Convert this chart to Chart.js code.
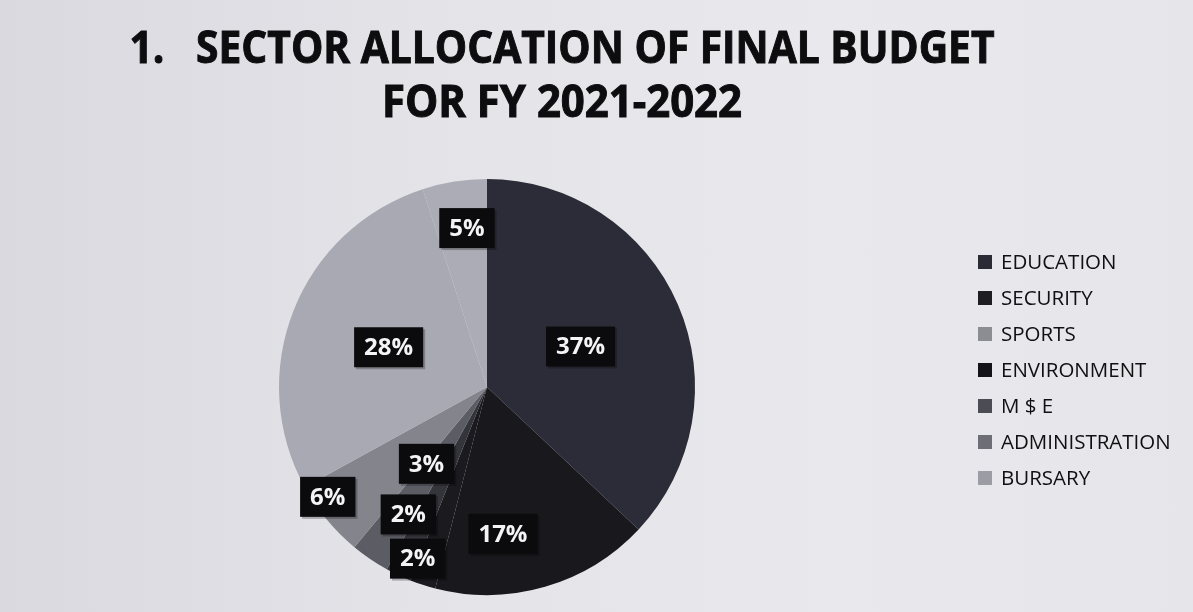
<!DOCTYPE html>
<html>
<head>
<meta charset="utf-8">
<script src="https://cdn.jsdelivr.net/npm/chart.js@4.4.1/dist/chart.umd.min.js"></script>
<style>
  html, body { margin: 0; padding: 0; }
  body {
    width: 1193px; height: 612px; overflow: hidden;
    background: linear-gradient(90deg, #d9d9df 0%, #e3e3e8 35%, #e9e9ed 70%, #e6e6ea 100%);
  }
  #chart { display: block; }
</style>
</head>
<body>
<canvas id="chart" width="1193" height="612"></canvas>
<script>
/* ── Data ── */
const titleLines  = ['1.   SECTOR ALLOCATION OF FINAL BUDGET', 'FOR FY 2021-2022'];
const categories  = ['EDUCATION', 'SECURITY', 'SPORTS', 'ENVIRONMENT', 'M $ E', 'ADMINISTRATION', 'BURSARY', ''];
const shares      = [37, 17, 2, 2, 3, 6, 28, 5];
const sliceColors = ['#2c2c39', '#18181d', '#1a1a1f', '#34343b', '#5c5c64', '#84848c', '#a9a9b3', '#abacb5'];
const legendColors = ['#2b2b35', '#1d1d22', '#8c8c93', '#141418', '#4c4c54', '#6e6e76', '#9c9ca4'];

/* ── Label placement (fraction of radius, angle nudge in degrees) ── */
const labelRadius = [0.49, 0.71, 0.89, 0.72, 0.47, 0.93, 0.51, 0.77];
const labelNudge  = [0, 10, 4, 6.5, 4, 5, 0.4, 1.8];

const FONT = "'Open Sans', 'DejaVu Sans', sans-serif";

/* ── Plugins ── */
const titlePlugin = {
  id: 'scanTitle',
  afterDraw(chart) {
    const ctx = chart.ctx;
    const targets = [{ w: 865, y: 63 }, { w: 360, y: 117 }];
    ctx.save();
    ctx.fillStyle = '#0d0d10';
    ctx.strokeStyle = '#0d0d10';
    ctx.lineWidth = 1;
    ctx.font = `bold 44px ${FONT}`;
    ctx.textBaseline = 'alphabetic';
    ctx.textAlign = 'center';
    titleLines.forEach((line, i) => {
      const w = ctx.measureText(line).width;
      ctx.save();
      ctx.translate(562, targets[i].y);
      ctx.scale(targets[i].w / w, 1);
      ctx.fillText(line, 0, 0);
      ctx.strokeText(line, 0, 0);
      ctx.restore();
    });
    ctx.restore();
  }
};

const boxLabels = {
  id: 'boxLabels',
  afterDatasetsDraw(chart) {
    const ctx = chart.ctx;
    const meta = chart.getDatasetMeta(0);
    const total = shares.reduce((s, v) => s + v, 0);
    ctx.save();
    ctx.font = `bold 24px ${FONT}`;
    ctx.textAlign = 'center';
    ctx.textBaseline = 'middle';
    meta.data.forEach((arc, i) => {
      const p = arc.getProps(['x', 'y', 'startAngle', 'endAngle', 'outerRadius'], true);
      const a = (p.startAngle + p.endAngle) / 2 + labelNudge[i] * Math.PI / 180;
      const r = p.outerRadius * labelRadius[i];
      const x = p.x + Math.cos(a) * r;
      const y = p.y + Math.sin(a) * r;
      const text = Math.round(shares[i] / total * 100) + '%';
      const w = ctx.measureText(text).width + 20;
      const h = 40;
      ctx.fillStyle = 'rgba(0,0,0,0.25)';
      ctx.fillRect(x - w / 2 + 2, y - h / 2 + 2, w, h);
      ctx.fillStyle = '#0b0b0d';
      ctx.fillRect(x - w / 2, y - h / 2, w, h);
      ctx.fillStyle = '#f4f4f6';
      ctx.fillText(text, x, y + 1);
    });
    ctx.restore();
  }
};

const sideLegend = {
  id: 'sideLegend',
  afterDraw(chart) {
    const ctx = chart.ctx;
    ctx.save();
    ctx.font = `20.5px ${FONT}`;
    ctx.textBaseline = 'middle';
    ctx.textAlign = 'left';
    categories.filter(c => c).forEach((name, i) => {
      const y = 262 + i * 36;
      ctx.fillStyle = legendColors[i];
      ctx.fillRect(978, y - 7, 14, 14);
      ctx.fillStyle = '#101013';
      ctx.fillText(name, 1001, y + 1);
    });
    ctx.restore();
  }
};

/* ── Chart ── */
new Chart(document.getElementById('chart'), {
  type: 'pie',
  data: {
    labels: categories,
    datasets: [{
      data: shares,
      backgroundColor: sliceColors,
      borderWidth: 0
    }]
  },
  options: {
    responsive: false,
    animation: false,
    layout: { padding: { top: 179, bottom: 17, left: 279, right: 498 } },
    plugins: {
      legend: { display: false },
      title: { display: false },
      tooltip: { enabled: false }
    }
  },
  plugins: [titlePlugin, boxLabels, sideLegend]
});
</script>
</body>
</html>
